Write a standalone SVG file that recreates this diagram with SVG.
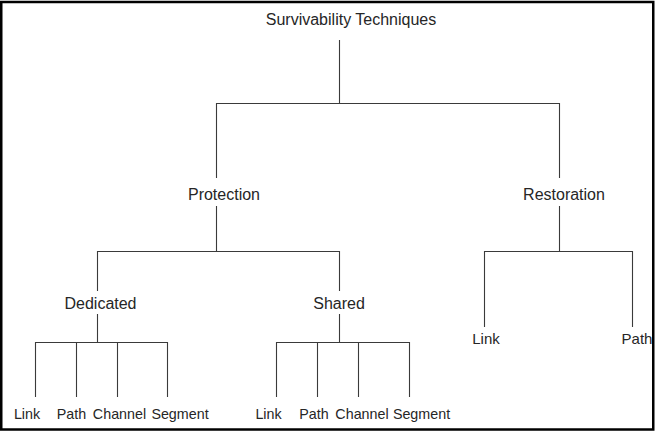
<svg xmlns="http://www.w3.org/2000/svg" width="655" height="432" viewBox="0 0 655 432">
  <style>
    .frame { fill: #ffffff; stroke: #000000; stroke-width: 2.5; }
    .edge { fill: none; stroke: #3a3a3a; stroke-width: 1.1; }
    text { font-family: "Liberation Sans", Arial, sans-serif; fill: #262626; text-anchor: middle; }
    .l1 { font-size: 16px; }
    .l2 { font-size: 15px; }
    .l3 { font-size: 14.3px; }
  </style>

  <rect class="frame" x="1.25" y="2" width="652" height="427.5"/>

  <!-- tree connectors -->
  <g id="connectors">
    <!-- root to first level -->
    <path class="edge" d="M339.5 40 V103.5 M216.5 178 V103.5 H559.5 V178"/>
    <!-- protection to dedicated / shared -->
    <path class="edge" d="M216.5 206 V251.5 M97.5 291 V251.5 H339.5 V291"/>
    <!-- restoration to link / path -->
    <path class="edge" d="M559.5 206 V251.5 M484.5 327 V251.5 H632.5 V327"/>
    <!-- dedicated to its four schemes -->
    <path class="edge" d="M97.5 314 V342.5 M35.5 397 V342.5 H167.5 V397 M76.5 342.5 V397 M117.5 342.5 V397"/>
    <!-- shared to its four schemes -->
    <path class="edge" d="M339.5 314 V342.5 M276.5 397 V342.5 H409.5 V397 M317.5 342.5 V397 M358.5 342.5 V397"/>
  </g>

  <g id="root"><text class="l1" x="351" y="25">Survivability Techniques</text></g>

  <g id="protection"><text class="l1" x="224" y="200">Protection</text></g>
  <g id="restoration"><text class="l1" x="564" y="199.5">Restoration</text></g>

  <g id="dedicated"><text class="l1" x="100.5" y="309">Dedicated</text></g>
  <g id="shared"><text class="l1" x="339" y="309">Shared</text></g>

  <g id="restoration-link"><text class="l2" x="486" y="344">Link</text></g>
  <g id="restoration-path"><text class="l2" x="637" y="344">Path</text></g>

  <g id="dedicated-link"><text class="l3" x="27" y="419">Link</text></g>
  <g id="dedicated-path"><text class="l3" x="71.5" y="419">Path</text></g>
  <g id="dedicated-channel"><text class="l3" x="119.5" y="419">Channel</text></g>
  <g id="dedicated-segment"><text class="l3" x="180" y="419">Segment</text></g>

  <g id="shared-link"><text class="l3" x="268.5" y="419">Link</text></g>
  <g id="shared-path"><text class="l3" x="314" y="419">Path</text></g>
  <g id="shared-channel"><text class="l3" x="362" y="419">Channel</text></g>
  <g id="shared-segment"><text class="l3" x="421.5" y="419">Segment</text></g>
</svg>
